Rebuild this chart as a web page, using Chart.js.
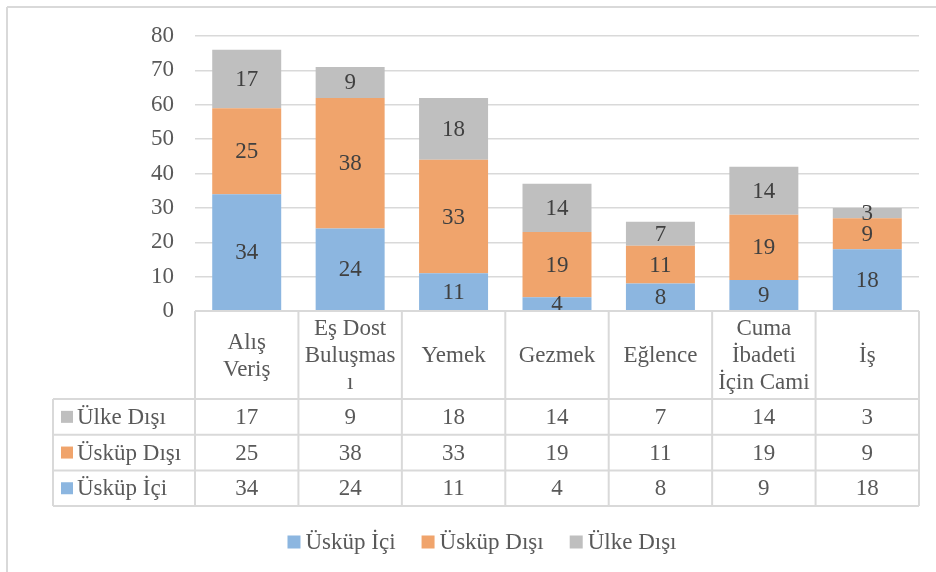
<!DOCTYPE html>
<html>
<head>
<meta charset="utf-8">
<script src="https://cdn.jsdelivr.net/npm/chart.js@4/dist/chart.umd.min.js"></script>
<style>
  html, body { margin: 0; padding: 0; background: #fff; }
  #wrap { position: relative; width: 936px; height: 572px; }
</style>
</head>
<body>
<div id="wrap"><canvas id="chart" width="936" height="572"></canvas></div>
<script>
// visit purposes (multi-line labels as shown in the table header)
const categories = [
  ["Alış", "Veriş"],
  ["Eş Dost", "Buluşmas", "ı"],
  ["Yemek"],
  ["Gezmek"],
  ["Eğlence"],
  ["Cuma", "İbadeti", "İçin Cami"],
  ["İş"]
];
const seriesNames = ["Üsküp İçi", "Üsküp Dışı", "Ülke Dışı"];
const uskupIci = [34, 24, 11, 4, 8, 9, 18];
const uskupDisi = [25, 38, 33, 19, 11, 19, 9];
const ulkeDisi = [17, 9, 18, 14, 7, 14, 3];
const yMin = 0, yMax = 80, yStep = 10;
const seriesColors = ["#8cb6e0", "#f0a46c", "#bfbfbf"];

const FONT = "'Liberation Serif', 'Times New Roman', serif";
const FONT_SIZE = 23;
const GRID = "#d9d9d9";
const TEXT = "#595959";

// value labels inside each stacked segment
const segmentLabels = {
  id: "segmentLabels",
  afterDatasetsDraw(chart) {
    const ctx = chart.ctx;
    ctx.save();
    ctx.font = FONT_SIZE + "px " + FONT;
    ctx.fillStyle = "#404040";
    ctx.textAlign = "center";
    ctx.textBaseline = "middle";
    chart.data.datasets.forEach((ds, di) => {
      chart.getDatasetMeta(di).data.forEach((bar, i) => {
        ctx.fillText(String(ds.data[i]), bar.x, (bar.y + bar.base) / 2 + 1);
      });
    });
    ctx.restore();
  }
};

// data table under the plot, legend and frame lines
const dataTable = {
  id: "dataTable",
  afterDraw(chart) {
    const ctx = chart.ctx;
    const area = chart.chartArea;
    const x = chart.scales.x;
    const colW = (area.right - area.left) / categories.length;
    const headTop = area.bottom;
    const headBottom = headTop + 88;
    const rowH = 35.7;
    const tableLeft = 53;
    const tableBottom = headBottom + rowH * 3;

    ctx.save();
    ctx.strokeStyle = GRID;
    ctx.lineWidth = 2;

    const line = (x1, y1, x2, y2) => {
      ctx.beginPath();
      ctx.moveTo(x1, y1);
      ctx.lineTo(x2, y2);
      ctx.stroke();
    };

    // horizontal rules
    line(area.left, headTop, area.right, headTop);
    for (let r = 0; r <= 3; r++) {
      const y = headBottom + rowH * r;
      line(tableLeft, y, area.right, y);
    }
    // vertical rules
    line(tableLeft, headBottom, tableLeft, tableBottom);
    for (let c = 0; c <= categories.length; c++) {
      const cx = area.left + colW * c;
      line(cx, headTop, cx, tableBottom);
    }

    ctx.font = FONT_SIZE + "px " + FONT;
    ctx.fillStyle = TEXT;
    ctx.textAlign = "center";
    ctx.textBaseline = "middle";

    // header: category names
    const lineH = 27;
    const headMid = (headTop + headBottom) / 2;
    categories.forEach((lines, i) => {
      const cx = x.getPixelForValue(i);
      const y0 = headMid - (lines.length - 1) * lineH / 2;
      lines.forEach((t, k) => ctx.fillText(t, cx, y0 + k * lineH + 1));
    });

    // rows: series in reverse order, top to bottom
    const order = [2, 1, 0];
    order.forEach((di, r) => {
      const ds = chart.data.datasets[di];
      const cy = headBottom + rowH * r + rowH / 2;
      ctx.fillStyle = ds.backgroundColor;
      ctx.fillRect(61, cy - 6, 12, 12);
      ctx.fillStyle = TEXT;
      ctx.textAlign = "left";
      ctx.fillText(ds.label, 77, cy + 1);
      ctx.textAlign = "center";
      ds.data.forEach((v, i) => ctx.fillText(String(v), x.getPixelForValue(i), cy + 1));
    });

    // legend
    const box = 13, gapText = 5, gapItem = 26;
    const ds = chart.data.datasets;
    const widths = ds.map(d => ctx.measureText(d.label).width);
    let total = 0;
    widths.forEach((w, i) => { total += box + gapText + w + (i < widths.length - 1 ? gapItem : 0); });
    let lx = 482 - total / 2;
    const ly = 542;
    ds.forEach((d, i) => {
      ctx.fillStyle = d.backgroundColor;
      ctx.fillRect(lx, ly - box / 2, box, box);
      ctx.fillStyle = TEXT;
      ctx.textAlign = "left";
      ctx.fillText(d.label, lx + box + gapText, ly + 1);
      lx += box + gapText + widths[i] + gapItem;
    });

    // outer frame (top and left edges)
    line(7, 7, chart.width, 7);
    line(7, 7, 7, chart.height);
    ctx.restore();
  }
};

new Chart(document.getElementById("chart"), {
  type: "bar",
  data: {
    labels: categories,
    datasets: [
      { label: seriesNames[0], data: uskupIci, backgroundColor: seriesColors[0] },
      { label: seriesNames[1], data: uskupDisi, backgroundColor: seriesColors[1] },
      { label: seriesNames[2], data: ulkeDisi, backgroundColor: seriesColors[2] }
    ]
  },
  options: {
    responsive: false,
    animation: false,
    devicePixelRatio: 1,
    layout: { padding: { top: 36, right: 17, bottom: 66, left: 0 } },
    datasets: { bar: { categoryPercentage: 1, barPercentage: 0.667, borderWidth: 0 } },
    plugins: { legend: { display: false }, tooltip: { enabled: false } },
    scales: {
      x: {
        stacked: true,
        grid: { display: false },
        border: { display: false },
        ticks: { display: false },
        afterFit(scale) { scale.height = 195; }
      },
      y: {
        stacked: true,
        min: yMin,
        max: yMax,
        grid: { color: GRID, lineWidth: 1.5, drawTicks: false },
        border: { display: false },
        ticks: {
          stepSize: yStep,
          padding: 21,
          color: TEXT,
          font: { family: FONT, size: FONT_SIZE }
        },
        afterFit(scale) { scale.width = 195; }
      }
    }
  },
  plugins: [segmentLabels, dataTable]
});
</script>
</body>
</html>
